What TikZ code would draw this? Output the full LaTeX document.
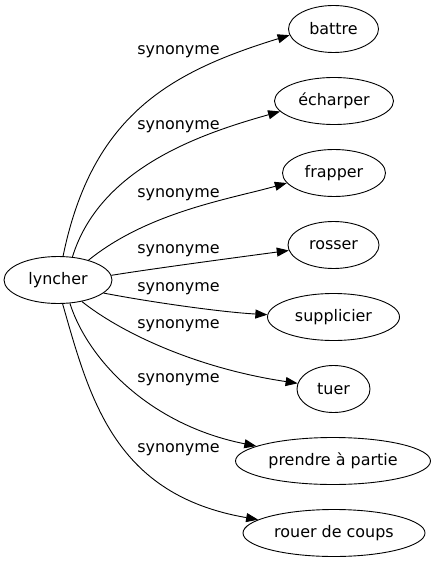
\documentclass[tikz,border=0pt]{standalone}
\usepackage{fontspec}
\setmainfont{DejaVu Sans}
\usetikzlibrary{arrows.meta,shapes.geometric}

\begin{document}
\begin{tikzpicture}[x=1bp,y=-1bp,
        every node/.style={font=\fontsize{16}{19}\selectfont},
        mot/.style={draw,ellipse,inner sep=0pt,minimum height=47bp,line width=0.9bp},
        syn/.style={-{Triangle[length=12bp,width=9bp]},line width=0.9bp},
        lab/.style={inner sep=0pt}]
                \useasboundingbox (0,0) rectangle (437,563);

                \node[mot,minimum width=108bp] (lyncher) at (58,280) {lyncher};
                \node[mot,minimum width=90bp] (battre) at (333.5,29) {battre};
                \node[mot,minimum width=119bp] (echarper) at (334,101) {écharper};
                \node[mot,minimum width=103bp] (frapper) at (334,173) {frapper};
                \node[mot,minimum width=91bp] (rosser) at (333.5,245) {rosser};
                \node[mot,minimum width=132bp] (supplicier) at (333.5,317) {supplicier};
                \node[mot,minimum width=73bp] (tuer) at (333.5,389) {tuer};
                \node[mot,minimum width=195bp] (prendre) at (333,461) {prendre à partie};
                \node[mot,minimum width=182bp] (rouer) at (334,533) {rouer de coups};

                \draw[syn] (lyncher.78) .. controls (92,115) and (170,72) .. (battre.188);
                \draw[syn] (lyncher.58) .. controls (100,168) and (200,134) .. (echarper.191);
                \draw[syn] (lyncher.33) .. controls (148,212) and (230,199) .. (frapper.192);
                \draw[syn] (lyncher.5) .. controls (150,269) and (240,257) .. (rosser.187);
                \draw[syn] (lyncher.-16) .. controls (150,302) and (220,312) .. (supplicier.178);
                \draw[syn] (lyncher.-42) .. controls (120,332) and (195,368) .. (tuer.171);
                \draw[syn] (lyncher.-63) .. controls (88,360) and (150,425) .. (prendre.169);
                \draw[syn] (lyncher.-79) .. controls (90,400) and (115,495) .. (rouer.170);

                \node[lab] (s1) at (178.5,52) {synonyme};
                \node[lab] (s2) at (178.5,127) {synonyme};
                \node[lab] (s3) at (178.5,195) {synonyme};
                \node[lab] (s4) at (178.5,250.5) {synonyme};
                \node[lab] (s5) at (178.5,288.5) {synonyme};
                \node[lab] (s6) at (178.5,325.5) {synonyme};
                \node[lab] (s7) at (178.5,380) {synonyme};
                \node[lab] (s8) at (178.5,449.5) {synonyme};
            \end{tikzpicture}
\end{document}
